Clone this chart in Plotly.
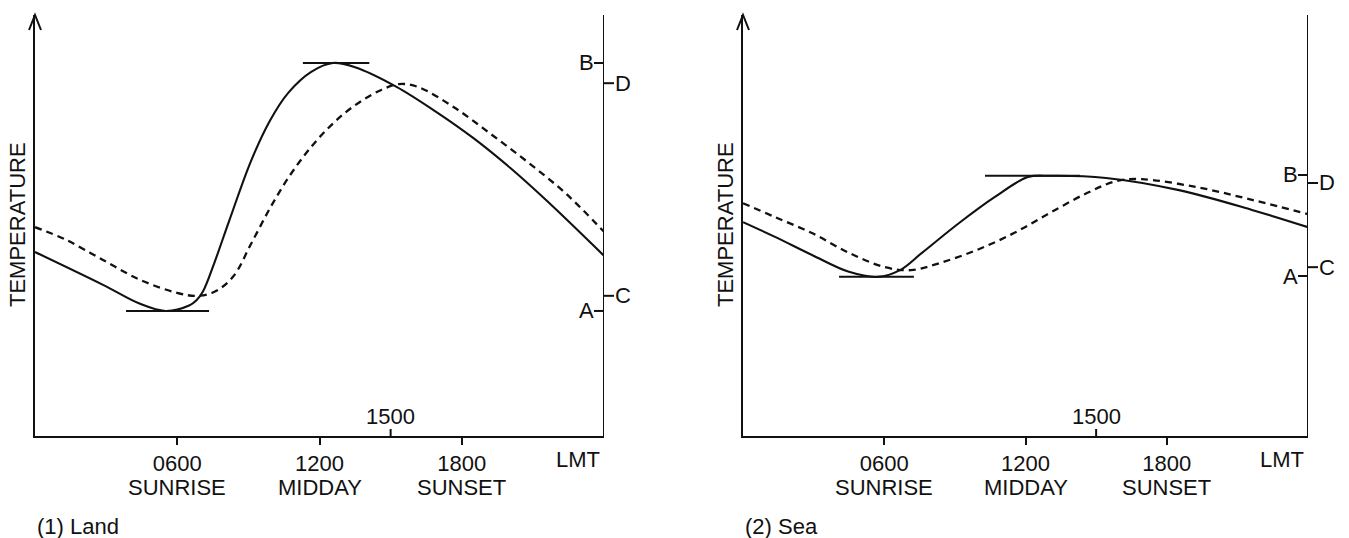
import plotly.graph_objects as go

# ---------------- data (hours LMT, temperature in arbitrary units) ----------------
land_solid_h = [0, 2.87, 4.43, 5.5, 6.5, 6.8, 7.09, 7.55, 8.19, 9.11, 9.92, 10.68, 11.65, 12.57, 13.5, 15.23, 16.92, 18.48, 20.04, 21.6, 24]
land_solid_t = [43.7, 35.9, 31.4, 29.7, 31.0, 32.2, 34.4, 40.9, 51.1, 65.3, 75.0, 81.5, 86.5, 88.6, 87.6, 83.0, 77.0, 70.8, 63.7, 55.8, 42.8]

land_dash_h = [0, 1.31, 2.87, 4.43, 5.99, 6.79, 7.55, 8.35, 9.11, 9.92, 10.68, 11.48, 12.24, 13.04, 13.8, 14.6, 15.36, 16.16, 17.72, 19.28, 20.84, 22.41, 24]
land_dash_t = [49.6, 46.6, 41.8, 37.1, 34.0, 33.3, 34.2, 37.8, 45.6, 54.2, 61.3, 67.5, 72.4, 76.6, 79.7, 82.2, 83.6, 82.9, 77.9, 71.5, 64.8, 57.5, 48.5]

sea_solid_h = [0, 1.36, 2.93, 4.5, 5.73, 6.67, 7.6, 9.18, 10.7, 12.1, 13.04, 15.42, 18.52, 21.62, 24]
sea_solid_t = [50.8, 47.3, 43.0, 39.0, 37.8, 39.4, 43.5, 50.6, 56.8, 61.5, 61.8, 61.3, 58.4, 53.7, 49.6]

sea_dash_h = [0, 1.36, 2.93, 4.5, 6.03, 7.14, 8.37, 9.94, 11.51, 13.04, 14.61, 15.89, 16.95, 19.29, 21.62, 24]
sea_dash_t = [55.3, 52.0, 48.2, 43.5, 40.1, 39.4, 41.1, 44.2, 48.2, 53.0, 57.7, 60.6, 61.0, 59.1, 56.1, 52.7]

# tangent bars at extremes: (start hour, end hour, level)
land_min_bar = [3.84, 7.34, 29.7]
land_max_bar = [11.3, 14.1, 88.6]
sea_min_bar = [4.08, 7.26, 37.8]
sea_max_bar = [10.28, 14.32, 61.8]

# marks on right-hand scale
land_marks = {"B": 88.6, "D": 83.8, "C": 33.3, "A": 29.7}
sea_marks = {"B": 62.0, "D": 60.1, "C": 40.1, "A": 38.0}

tick_hours = [6, 12, 18]
tick_labels = ["0600", "1200", "1800"]
tick_names = ["SUNRISE", "MIDDAY", "SUNSET"]
extra_hour = 15
extra_label = "1500"
panel_titles = ["(1) Land", "(2) Sea"]

# ---------------- layout geometry ----------------
W, H = 1349, 538
FONT = "Liberation Sans, Arial, Helvetica, sans-serif"
INK = "#111111"
TOP, BOT = 15, 436
panels = [(35, 604), (743, 1308)]


def px(x):
    return x / W


def py(y):
    return 1 - y / H


fig = go.Figure()

series = [
    (land_solid_h, land_solid_t, land_dash_h, land_dash_t, land_min_bar, land_max_bar, "x", "y"),
    (sea_solid_h, sea_solid_t, sea_dash_h, sea_dash_t, sea_min_bar, sea_max_bar, "x2", "y2"),
]

for sh, st, dh, dt, mnb, mxb, xa, ya in series:
    fig.add_trace(go.Scatter(x=dh, y=dt, mode="lines", xaxis=xa, yaxis=ya,
                             line=dict(color=INK, width=2.3, dash="7px,5px", shape="spline", smoothing=1.0),
                             hoverinfo="skip"))
    fig.add_trace(go.Scatter(x=sh, y=st, mode="lines", xaxis=xa, yaxis=ya,
                             line=dict(color=INK, width=2.1, shape="spline", smoothing=1.0),
                             hoverinfo="skip"))
    for bar in (mnb, mxb):
        fig.add_trace(go.Scatter(x=[bar[0], bar[1]], y=[bar[2], bar[2]], mode="lines",
                                 xaxis=xa, yaxis=ya, line=dict(color=INK, width=2),
                                 hoverinfo="skip"))

axis_common = dict(showgrid=False, zeroline=False, showline=True, linecolor=INK, linewidth=2)

for i, (x0, x1) in enumerate(panels):
    sfx = "" if i == 0 else str(i + 1)
    fig.layout["xaxis" + sfx] = dict(
        axis_common, domain=[px(x0), px(x1)], range=[0, 24], anchor="y" + sfx,
        tickvals=tick_hours, ticktext=tick_labels, ticks="outside", ticklen=7, tickwidth=2,
        tickcolor=INK, tickfont=dict(family=FONT, size=22, color=INK), fixedrange=True)
    fig.layout["yaxis" + sfx] = dict(
        axis_common, domain=[py(BOT), py(TOP)], range=[0, 100], anchor="x" + sfx,
        showticklabels=False, ticks="", fixedrange=True)

shapes = []
annotations = []
marks_list = [land_marks, sea_marks]
for i, (x0, x1) in enumerate(panels):
    xr = "x" if i == 0 else "x2"
    yr = "y" if i == 0 else "y2"
    # right-hand vertical scale line
    shapes.append(dict(type="line", xref=xr, yref=yr, x0=24, x1=24, y0=0, y1=100.7,
                       line=dict(color=INK, width=2)))
    # open arrowhead on the temperature axis
    shapes.append(dict(type="path", xref="paper", yref="paper",
                       path=f"M {px(x0-6)},{py(TOP+15)} L {px(x0)},{py(TOP)} L {px(x0+6)},{py(TOP+15)}",
                       line=dict(color=INK, width=2)))
    # 1500 tick (above the axis)
    shapes.append(dict(type="line", xref=xr, yref="paper", x0=extra_hour, x1=extra_hour,
                       y0=py(BOT), y1=py(BOT - 7), line=dict(color=INK, width=2)))
    # right-scale marks
    mk = marks_list[i]
    for name, val in mk.items():
        left = name in ("B", "A")
        xa0 = px(x1 - 10) if left else px(x1)
        xa1 = px(x1) if left else px(x1 + 10)
        shapes.append(dict(type="line", xref="paper", yref=yr, x0=xa0, x1=xa1, y0=val, y1=val,
                           line=dict(color=INK, width=2)))
        annotations.append(dict(xref="paper", yref=yr, x=px(x1 - 18) if left else px(x1 + 19), y=val,
                                text=name, showarrow=False, xanchor="center", yanchor="middle",
                                font=dict(family=FONT, size=22, color=INK)))
    # second line of tick labels
    for hv, nm in zip(tick_hours, tick_names):
        annotations.append(dict(xref=xr, yref="paper", x=hv, y=py(487), text=nm,
                                showarrow=False, xanchor="center", yanchor="middle",
                                font=dict(family=FONT, size=22, color=INK)))
    # labels
    annotations.append(dict(xref=xr, yref="paper", x=extra_hour, y=py(416), text=extra_label,
                            showarrow=False, xanchor="center", yanchor="middle",
                            font=dict(family=FONT, size=22, color=INK)))
    annotations.append(dict(xref="paper", yref="paper", x=px(x1 - 26), y=py(459), text="LMT",
                            showarrow=False, xanchor="center", yanchor="middle",
                            font=dict(family=FONT, size=22, color=INK)))
    annotations.append(dict(xref="paper", yref="paper", x=px(x0 - 17), y=py(225), text="TEMPERATURE",
                            textangle=-90, showarrow=False, xanchor="center", yanchor="middle",
                            font=dict(family=FONT, size=22, color=INK)))
    annotations.append(dict(xref="paper", yref="paper", x=px(x0), y=py(526), text=panel_titles[i],
                            showarrow=False, xanchor="left", yanchor="middle",
                            font=dict(family=FONT, size=22, color=INK)))

fig.update_layout(
    width=W, height=H, margin=dict(l=0, r=0, t=0, b=0),
    paper_bgcolor="white", plot_bgcolor="white", showlegend=False,
    shapes=shapes, annotations=annotations,
)

fig.write_html("out.html", config={"displayModeBar": False},
               post_script="document.body.style.margin='0px';document.body.style.overflow='hidden';")
